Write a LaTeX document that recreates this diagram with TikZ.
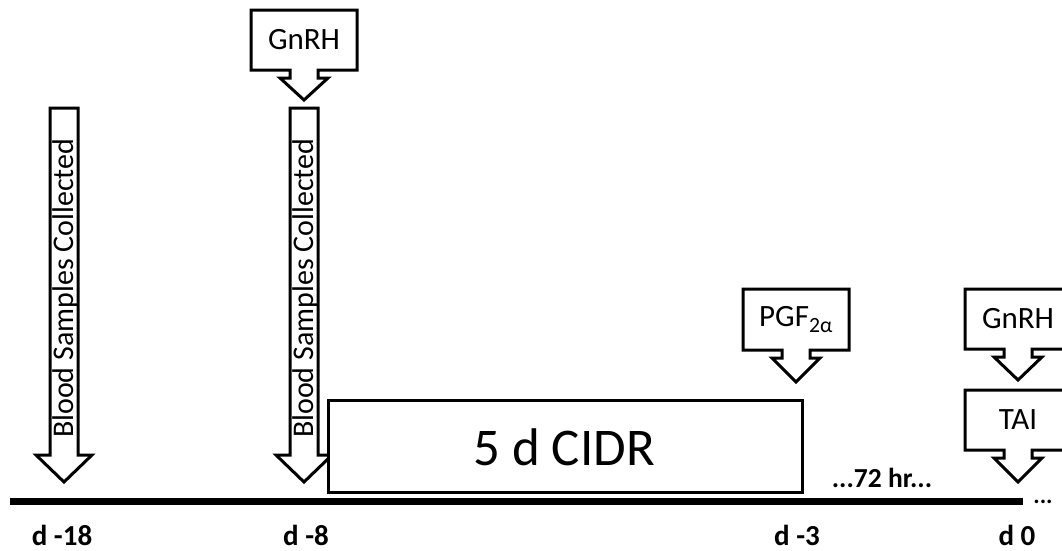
\documentclass[tikz,border=0pt]{standalone}
\usepackage{fontspec}
\setmainfont{Carlito}
\begin{document}
\begin{tikzpicture}[x=1pt,y=-1pt,
  outline/.style={draw=black,line width=3pt,line join=miter,fill=white},
  calltext/.style={font=\fontsize{31}{36}\selectfont,inner sep=0pt},
  daylabel/.style={font=\bfseries\fontsize{29}{33}\selectfont,inner sep=0pt},
  bloodtext/.style={font=\fontsize{30}{34}\selectfont,inner sep=0pt,rotate=90,anchor=base west}]
\useasboundingbox (0,0) rectangle (1062,550);

% timeline
\coordinate (tl0) at (10,501);
\coordinate (tl1) at (1023,501);
\draw[line width=7pt] (tl0) -- (tl1);
\node[font=\bfseries\fontsize{24}{28}\selectfont,inner sep=0pt] (dots) at (1043,502) {...};

% vertical sampling arrows: #1 centre x
\newcommand{\bloodarrow}[2]{%
  \draw[outline] (#1-14,108) -- (#1+14,108) -- (#1+14,455) -- (#1+28,455)
    -- (#1,482) -- (#1-28,455) -- (#1-14,455) -- cycle;
  \node[bloodtext] (#2) at (#1+9,438) {Blood Samples Collected};}
\bloodarrow{64}{bs1}
\bloodarrow{304}{bs2}

% treatment callouts: centre x, box top, box bottom, tip y, name, text
\newcommand{\callout}[6]{%
  \draw[outline] (#1-53,#2) -- (#1+53,#2) -- (#1+53,#3) -- (#1+14,#3)
    -- (#1+14,#3+8) -- (#1+24,#3+8) -- (#1,#4) -- (#1-24,#3+8)
    -- (#1-14,#3+8) -- (#1-14,#3) -- (#1-53,#3) -- cycle;
  \node[calltext] (#5) at (#1,{(#2+#3)/2}) {#6};}

% CIDR insert period
\draw[outline] (328,400) rectangle (802,492);
\node[font=\fontsize{53}{60}\selectfont,inner sep=0pt] (cidr) at (564,447) {5 d CIDR};

\callout{304}{10}{70}{100}{gnrh1}{GnRH}
\callout{796}{289}{350}{382}{pgf}{PGF\textsubscript{2α}}
\begin{scope}
  \clip (900,280) rectangle (1062,490);
  \callout{1018}{289}{349}{380}{gnrh2}{GnRH}
  \callout{1018}{390}{450}{482}{tai}{TAI}
\end{scope}

\node[font=\bfseries\fontsize{27.5}{32}\selectfont,inner sep=0pt] (gap) at (882,478) {...72 hr...};

% day labels
\node[daylabel] (d18) at (62,535) {d -18};
\node[daylabel] (d8) at (306,535) {d -8};
\node[daylabel] (d3) at (797,535) {d -3};
\node[daylabel] (d0) at (1017,535) {d 0};
\end{tikzpicture}
\end{document}
